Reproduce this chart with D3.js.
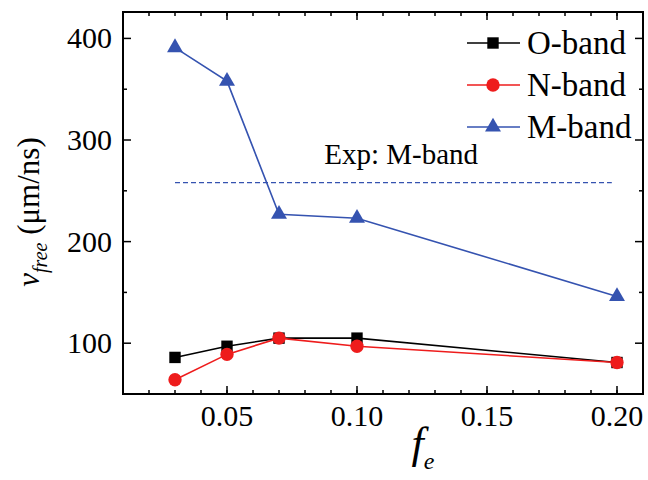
<!DOCTYPE html>
<html>
<head>
<meta charset="utf-8">
<script src="https://cdn.jsdelivr.net/npm/d3@7"></script>
<style>
  body { margin: 0; background: #fff; }
</style>
</head>
<body>
<svg id="chart" width="648" height="480" font-family="'Liberation Serif', 'Times New Roman', serif"></svg>
<script>
// values
var fe = [0.03, 0.05, 0.07, 0.10, 0.20]
var oBand = [86, 97, 105, 105, 81]
var nBand = [64, 89, 105, 97, 81]
var mBand = [391, 358, 227, 223, 146]
var expM = 258
var xTicks = [0.05, 0.10, 0.15, 0.20]
var yTicks = [100, 200, 300, 400]

var series = [
    {name: 'O-band', values: oBand, color: '#000000', shape: d3.symbolSquare, size: 130},
    {name: 'N-band', values: nBand, color: '#ee1c1c', shape: d3.symbolCircle, size: 140},
    {name: 'M-band', values: mBand, color: '#3553b0', shape: d3.symbolTriangle, size: 110}
]

var margin = {top: 12, right: 5, bottom: 86, left: 123}
var W = 648, H = 480
var w = W - margin.left - margin.right
var h = H - margin.top - margin.bottom

var svg = d3.select("#chart")
var g = svg.append("g").attr("transform", "translate(" + margin.left + "," + margin.top + ")")

var x = d3.scaleLinear().domain([0.01, 0.21]).range([0, w])
var y = d3.scaleLinear().domain([50, 426]).range([h, 0])

var minorX = d3.range(0.02, 0.205, 0.01)
var minorY = [150, 250, 350]

// ticks, drawn inward on all four sides
function tickLines(sel, vals, len, axis) {
    vals.forEach(function(v) {
        if (axis === 'x') {
            sel.append("line").attr("x1", x(v)).attr("x2", x(v)).attr("y1", h).attr("y2", h - len)
            sel.append("line").attr("x1", x(v)).attr("x2", x(v)).attr("y1", 0).attr("y2", len)
        } else {
            sel.append("line").attr("y1", y(v)).attr("y2", y(v)).attr("x1", 0).attr("x2", len)
            sel.append("line").attr("y1", y(v)).attr("y2", y(v)).attr("x1", w).attr("x2", w - len)
        }
    })
}
var ticks = g.append("g").attr("stroke", "#000").attr("stroke-width", 1.5)
tickLines(ticks, minorX, 4, 'x')
tickLines(ticks, xTicks, 8, 'x')
tickLines(ticks, minorY, 4, 'y')
tickLines(ticks, yTicks, 8, 'y')

g.append("g").selectAll("text").data(xTicks).enter()
    .append("text")
    .attr("x", d => x(d)).attr("y", h + 32)
    .attr("text-anchor", "middle")
    .attr("font-size", 30)
    .text(d => d3.format(".2f")(d))

g.append("g").selectAll("text").data(yTicks).enter()
    .append("text")
    .attr("x", -11).attr("y", d => y(d) + 10)
    .attr("text-anchor", "end")
    .attr("font-size", 30)
    .text(d => d)

// dashed experimental line
g.append("line")
    .attr("x1", x(0.03)).attr("x2", x(0.198))
    .attr("y1", y(expM)).attr("y2", y(expM))
    .attr("stroke", "#3553b0").attr("stroke-width", 1.3)
    .attr("stroke-dasharray", "5,3")

g.append("text")
    .attr("x", x(0.117)).attr("y", y(expM) - 19)
    .attr("text-anchor", "middle")
    .attr("font-size", 29)
    .text("Exp: M-band")

var line = d3.line().x((d, i) => x(fe[i])).y(d => y(d))

series.forEach(function(s) {
    g.append("path")
        .datum(s.values)
        .attr("d", line)
        .attr("fill", "none")
        .attr("stroke", s.color)
        .attr("stroke-width", 1.6)
    g.append("g").selectAll("path").data(s.values).enter()
        .append("path")
        .attr("transform", (d, i) => "translate(" + x(fe[i]) + "," + y(d) + ")")
        .attr("d", d3.symbol().type(s.shape).size(s.size))
        .attr("fill", s.color)
})

// frame
g.append("rect")
    .attr("width", w).attr("height", h)
    .attr("fill", "none").attr("stroke", "#000").attr("stroke-width", 2)

// legend
var leg = svg.append("g")
series.forEach(function(s, i) {
    var cy = 43 + i * 42
    leg.append("line").attr("x1", 467).attr("x2", 520).attr("y1", cy).attr("y2", cy)
        .attr("stroke", s.color).attr("stroke-width", 1.6)
    leg.append("path")
        .attr("transform", "translate(493," + cy + ")")
        .attr("d", d3.symbol().type(s.shape).size(s.size))
        .attr("fill", s.color)
    leg.append("text").attr("x", 527).attr("y", cy + 11)
        .attr("font-size", 33)
        .text(s.name)
})

// axis titles
var yl = svg.append("text")
    .attr("transform", "translate(39,212) rotate(-90)")
    .attr("text-anchor", "middle")
    .attr("font-size", 31)
yl.append("tspan").attr("font-style", "italic").text("v")
yl.append("tspan").attr("font-style", "italic").attr("font-size", 20).attr("dy", 8).text("free")
yl.append("tspan").attr("dy", -8).text(" (μm/ns)")

var xl = svg.append("text")
    .attr("x", 423).attr("y", 458)
    .attr("text-anchor", "middle")
    .attr("font-size", 44)
    .attr("font-style", "italic")
xl.append("tspan").text("f")
xl.append("tspan").attr("font-size", 24).attr("dy", 11).text("e")
</script>
</body>
</html>
